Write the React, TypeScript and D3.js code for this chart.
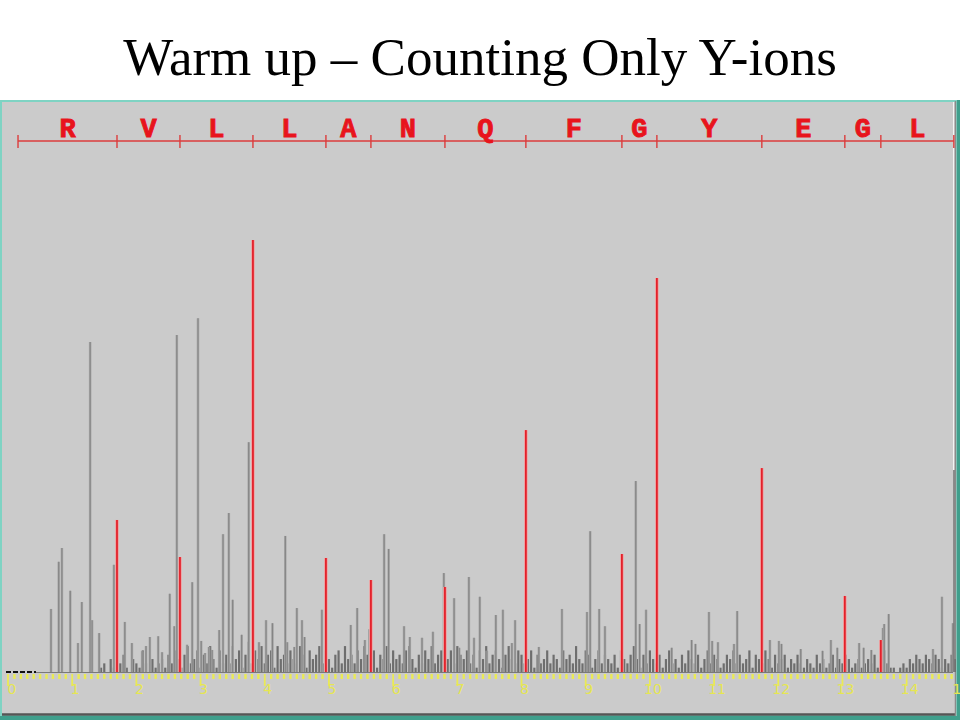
import React from "react";
import * as d3 from "d3";

// ---- data ----
const title = "Warm up – Counting Only Y-ions";
const residues = ["R", "V", "L", "L", "A", "N", "Q", "F", "G", "Y", "E", "G", "L"];
// sequence ladder boundaries (m/z)
const ladderStart = 15.6;
const ladderEnd = 1473.5;
// y-ion peaks (m/z, relative intensity %)
const yIonMz = [169.8, 267.9, 381.6, 495.3, 565.4, 680.7, 806.8, 956.4, 1010.9, 1174.4, 1303.7, 1359.8];
const yIonInt = [35.2, 26.6, 100, 26.4, 21.3, 19.7, 56.0, 27.3, 91.2, 47.2, 17.6, 7.4];
// other (unassigned) peaks [m/z, intensity]
const otherPeaks: [number, number][] = [
  [67, 14.6], [79, 25.5], [84, 28.7], [97, 18.8], [109, 6.7], [115, 16.2], [128, 76.4], [131, 12.0], [142, 9.0],
  [165, 24.8], [182, 11.6], [193, 6.7], [209, 4.8], [215, 6.0], [221, 8.1], [234, 8.3], [240, 4.6],
  [252, 18.1], [259, 10.6], [263, 78.0], [279, 6.3], [287, 20.8], [296, 81.9], [301, 7.2], [307, 4.4], [313, 5.8],
  [318, 5.1], [329, 9.7], [335, 31.9], [344, 36.8], [350, 16.7], [364, 8.6], [375, 53.2], [391, 6.9], [402, 12.0],
  [412, 11.3], [432, 31.5], [435, 6.9], [446, 5.8], [450, 14.8], [458, 12.0], [462, 8.1],
  [489, 14.4], [534, 10.9], [544, 14.8], [556, 7.4], [563, 9.9], [586, 31.9], [593, 28.5], [617, 10.6], [626, 8.1],
  [645, 7.9], [662, 9.3], [679, 22.9], [695, 17.1], [703, 5.6], [718, 22.0], [726, 7.9], [735, 17.4], [746, 4.9],
  [760, 13.2], [771, 14.4], [785, 6.7], [790, 12.0], [827, 5.8], [863, 14.6], [902, 13.9], [907, 32.6], [921, 14.6],
  [930, 10.6], [978, 44.2], [984, 11.1], [994, 14.4], [1034, 5.6], [1065, 7.4], [1071, 6.5], [1092, 13.9], [1097, 7.2],
  [1106, 6.9], [1131, 6.5], [1136, 14.1], [1187, 7.4], [1201, 7.2], [1205, 6.5], [1235, 5.3], [1269, 4.9], [1282, 7.4],
  [1292, 5.6], [1326, 6.7], [1333, 5.6], [1345, 5.1], [1363, 10.2], [1365, 11.1], [1372, 13.4], [1441, 5.3],
  [1455, 17.4], [1472, 11.3],
];
// low-level noise, one value every 5 m/z starting at 140
const noiseStart = 140;
const noiseStep = 5;
const noise = [
  0, 1, 2, 0, 3, 1, 0, 2, 4, 1, 0, 3, 2, 1, 5, 2, 0, 3, 1, 2,
  3, 1, 4, 2, 5, 3, 1, 4, 6, 2, 3, 5, 1, 4, 2, 6, 3, 1, 5, 2,
  4, 2, 6, 3, 5, 1, 4, 7, 2, 5, 3, 6, 2, 4, 5, 1, 6, 3, 4, 2,
  5, 3, 2, 6, 4, 1, 5, 3, 4, 6, 2, 5, 3, 1, 4, 5, 2, 6, 3, 4,
  2, 5, 3, 6, 4, 2, 5, 1, 4, 3, 6, 2, 5, 3, 4, 2, 5, 6, 3, 1,
  4, 2, 5, 3, 6, 2, 4, 5, 1, 3, 5, 2, 6, 4, 3, 5, 2, 4, 1, 5,
  3, 6, 2, 4, 5, 3, 1, 4, 6, 3, 2, 5, 4, 2, 3, 5, 1, 4, 2, 3,
  5, 2, 4, 3, 1, 5, 3, 4, 2, 6, 3, 2, 5, 4, 1, 3, 5, 2, 4, 3,
  2, 4, 1, 5, 3, 2, 4, 6, 3, 1, 4, 2, 5, 3, 2, 4, 1, 3, 5, 2,
  3, 1, 4, 2, 5, 3, 2, 4, 1, 3, 5, 2, 4, 3, 1, 2, 4, 3, 5, 2,
  4, 2, 3, 5, 1, 4, 3, 2, 5, 3, 1, 4, 2, 3, 4, 1, 3, 2, 4, 2,
  1, 3, 2, 1, 4, 2, 3, 1, 2, 4, 1, 3, 2, 4, 3, 1, 2, 3, 1, 2,
  3, 2, 4, 1, 3, 5, 2, 1, 1, 0, 1, 2, 1, 3, 2, 4, 3, 2, 4, 3,
  2, 4, 3, 1, 3, 2, 4, 3,
];
const axisLabels = ["0", "1", "2", "3", "4", "5", "6", "7", "8", "9", "10", "11", "12", "13", "14"];

export default function App() {
  const W = 960, H = 720;
  const x = d3.scaleLinear().domain([0, 1480]).range([8, 958]);
  const y = d3.scaleLinear().domain([0, 100]).range([672, 240]);
  const base = y(0);
  const ladderY = 141;
  const bounds = [ladderStart, ...yIonMz, ladderEnd];
  const minorTicks = d3.range(0, 1480, 10);
  const noisePeaks = noise.map((v, i) => [noiseStart + i * noiseStep, v] as [number, number]);

  return (
    <svg width={W} height={H} style={{ position: "absolute", left: 0, top: 0, background: "#fff" }}>
      <rect x={0} y={0} width={W} height={H} fill="#ffffff" />
      <text x={480} y={75} textAnchor="middle" fontFamily="'Liberation Serif','Times New Roman',serif" fontSize={53} fill="#000">
        {title}
      </text>
      {/* panel */}
      <rect x={0} y={100} width={960} height={620} fill="#3f9f8c" />
      <rect x={0} y={100} width={957} height={616} fill="#7fd3c3" />
      <rect x={2} y={102} width={953} height={612} fill="#cbcbcb" />
      <line x1={2} x2={956} y1={714.5} y2={714.5} stroke="#555" strokeWidth={2.5} />
      <line x1={955.5} x2={955.5} y1={101} y2={716} stroke="#8a8a8a" strokeWidth={1.5} />
      <line x1={953.5} x2={953.5} y1={102} y2={470} stroke="#f4f4f4" strokeWidth={1} />

      {/* sequence ladder */}
      <line x1={x(ladderStart)} x2={x(ladderEnd)} y1={ladderY} y2={ladderY} stroke="#dc3c3c" strokeWidth={1.4} />
      {bounds.map((b, i) => (
        <line key={"b" + i} x1={x(b)} x2={x(b)} y1={ladderY - 6} y2={ladderY + 7} stroke="#dc3c3c" strokeWidth={1.4} />
      ))}
      {residues.map((r, i) => (
        <text key={"r" + i} x={(x(bounds[i]) + x(bounds[i + 1])) / 2} y={137} textAnchor="middle"
          fontFamily="'Liberation Mono','Courier New',monospace" fontWeight="bold" fontSize={27} fill="#e8141c"
          stroke="#e8141c" strokeWidth={0.9}>
          {r}
        </text>
      ))}

      {/* noise */}
      {noisePeaks.filter(d => d[1] > 0).map((d, i) => (
        <line key={"n" + i} x1={x(d[0])} x2={x(d[0])} y1={base} y2={y(d[1])} stroke="#6e6e6e" strokeWidth={2.2} />
      ))}
      {/* unassigned peaks */}
      {otherPeaks.map((d, i) => (
        <g key={"p" + i}>
          <line x1={x(d[0])} x2={x(d[0])} y1={base} y2={y(d[1])} stroke="#aaaaaa" strokeWidth={2.6} />
          <line x1={x(d[0])} x2={x(d[0])} y1={base} y2={y(d[1])} stroke="#858585" strokeWidth={1.2} />
        </g>
      ))}
      {/* y-ions */}
      {yIonMz.map((m, i) => (
        <g key={"y" + i}>
          <line x1={x(m)} x2={x(m)} y1={base} y2={y(yIonInt[i])} stroke="#f0a0a0" strokeWidth={3.6} />
          <line x1={x(m)} x2={x(m)} y1={base} y2={y(yIonInt[i])} stroke="#e3202a" strokeWidth={1.8} />
        </g>
      ))}
      <line x1={954} x2={954} y1={470} y2={base} stroke="#777" strokeWidth={1.5} />

      {/* baseline & axis */}
      <line x1={36} x2={953} y1={base + 0.5} y2={base + 0.5} stroke="#7a7a7a" strokeWidth={1.2} />
      <line x1={6} x2={36} y1={base} y2={base} stroke="#111" strokeWidth={2} strokeDasharray="5,2" />
      {minorTicks.map((t, i) => (
        <line key={"t" + i} x1={x(t)} x2={x(t)} y1={base + 2} y2={t % 100 === 0 ? base + 14 : base + 7}
          stroke="#eaea55" strokeWidth={t % 100 === 0 ? 1.8 : 2.4} />
      ))}
      {axisLabels.map((l, i) => (
        <text key={"l" + i} x={x(i * 100) + (i === 0 ? 4 : 3)} y={694} textAnchor="middle"
          fontFamily="'DejaVu Sans',sans-serif" fontSize={14} fill="#e6e652">
          {l}
        </text>
      ))}
      <text x={957} y={694} textAnchor="middle" fontFamily="'DejaVu Sans',sans-serif" fontSize={14} fill="#e6e652">1</text>
    </svg>
  );
}
